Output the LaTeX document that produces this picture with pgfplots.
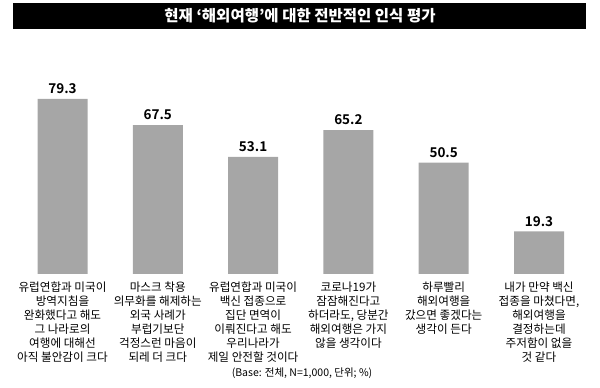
\documentclass[border=0pt]{standalone}
\usepackage{pgfplots}
\pgfplotsset{compat=1.18}
\usepackage{fontspec}
\setmainfont{Noto Sans CJK KR}
\newfontfamily\boldkr{Noto Sans CJK KR Bold}
\definecolor{bargray}{HTML}{A6A6A6}
\begin{document}
\begin{tikzpicture}
\path[use as bounding box] (0,0) rectangle (600bp,388bp);
\fill[black] (13bp,359bp) rectangle (586bp,385bp);
\node[text=white, font=\bfseries\fontsize{15.5bp}{17bp}\selectfont, inner sep=0pt] at (300bp,372bp) {현재 ‘해외여행’에 대한 전반적인 인식 평가};
\begin{axis}[
  at={(14.85bp,114bp)}, anchor=south west,
  scale only axis, width=571.8bp, height=220.7bp,
  xmin=-0.5, xmax=5.5, ymin=0, ymax=100,
  ybar, bar width=50bp, bar shift=0pt,
  axis line style={draw=none}, tick style={draw=none},
  ytick=\empty,
  xtick={0,1,2,3,4,5},
  xticklabels={
    {유럽연합과 미국이\\방역지침을\\완화했다고 해도\\그 나라로의\\여행에 대해선\\아직 불안감이 크다},
    {마스크 착용\\의무화를 해제하는\\외국 사례가\\부럽기보단\\걱정스런 마음이\\되레 더 크다},
    {유럽연합과 미국이\\백신 접종으로\\집단 면역이\\이뤄진다고 해도\\우리나라가\\제일 안전할 것이다},
    {코로나19가\\잠잠해진다고\\하더라도, 당분간\\해외여행은 가지\\않을 생각이다},
    {하루빨리\\해외여행을\\갔으면 좋겠다는\\생각이 든다},
    {내가 만약 백신\\접종을 마쳤다면,\\해외여행을\\결정하는데\\주저함이 없을\\것 같다}},
  xticklabel style={align=center, anchor=north, inner sep=0pt, yshift=-3bp,
    font=\fontsize{11.6bp}{14bp}\selectfont},
  /pgf/number format/assume math mode=true,
  /pgf/number format/.cd, fixed, precision=1, /pgfplots/.cd,
  nodes near coords,
  every node near coord/.append style={anchor=south, inner sep=0pt, yshift=5bp,
    font=\boldkr\fontsize{13.5bp}{15bp}\selectfont, text=black},
]
\addplot[fill=bargray, draw=none] coordinates {(0,79.3) (1,67.5) (2,53.1) (3,65.2) (4,50.5) (5,19.3)};
\end{axis}
\node[font=\fontsize{10.5bp}{12bp}\selectfont, inner sep=0pt] at (302bp,15bp) {(Base: 전체, N=1,000, 단위; \%)};
\end{tikzpicture}
\end{document}
